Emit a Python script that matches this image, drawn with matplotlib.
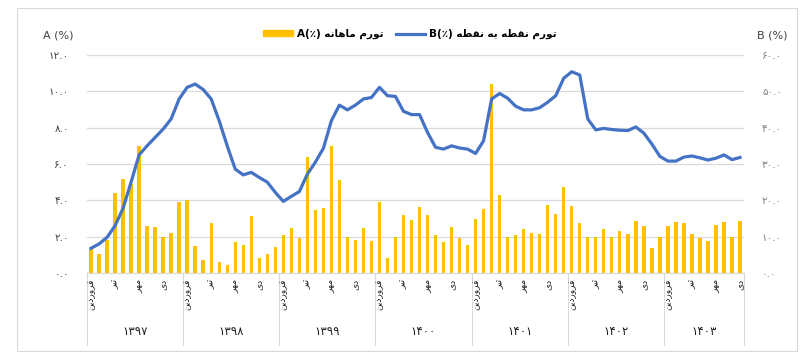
import matplotlib
matplotlib.use('Agg')
import matplotlib.pyplot as plt
from matplotlib.patches import Rectangle, Patch
from matplotlib.lines import Line2D
import matplotlib.transforms as mtransforms

plt.rcParams['font.family'] = ['DejaVu Sans']

# داده‌ها
years = ['۱۳۹۷', '۱۳۹۸', '۱۳۹۹', '۱۴۰۰', '۱۴۰۱', '۱۴۰۲', '۱۴۰۳']
months_per_year = [12, 12, 12, 12, 12, 12, 10]
month_names = {1: 'فروردین', 4: 'تیر', 7: 'مهر', 10: 'دی'}

tavarom_mahane = [
    1.3, 1.05, 1.8, 4.4, 5.2, 4.9, 7.0, 2.6, 2.55, 2.0, 2.2, 3.9,
    4.0, 1.5, 0.73, 2.73, 0.62, 0.46, 1.72, 1.55, 3.16, 0.8, 1.06, 1.41,
    2.1, 2.5, 1.95, 6.4, 3.45, 3.56, 7.0, 5.12, 1.96, 1.82, 2.48, 1.78,
    3.93, 0.84, 1.96, 3.19, 2.92, 3.63, 3.19, 2.09, 1.71, 2.53, 1.94, 1.54,
    2.95, 3.54, 10.4, 4.31, 1.96, 2.09, 2.44, 2.22, 2.13, 3.74, 3.27, 4.72,
    3.69, 2.75, 2.0, 1.96, 2.42, 2.0, 2.33, 2.13, 2.88, 2.57, 1.36, 1.96,
    2.6, 2.81, 2.77, 2.17, 1.94, 1.74, 2.66, 2.81, 1.98, 2.88,
]
tavarom_noghte = [
    6.8, 8.0, 9.8, 13.0, 17.8, 25.0, 32.5, 35.0, 37.3, 39.6, 42.4, 47.9,
    51.1, 52.0, 50.5, 47.9, 41.9, 35.0, 28.6, 27.0, 27.7, 26.3, 25.0, 22.2,
    19.7, 21.1, 22.4, 27.2, 30.5, 34.3, 41.9, 46.2, 44.9, 46.2, 47.9, 48.3,
    51.1, 48.8, 48.6, 44.5, 43.6, 43.6, 38.7, 34.6, 34.1, 35.0, 34.4, 34.1,
    32.9, 36.4, 47.9, 49.4, 48.1, 45.9, 44.9, 44.9, 45.5, 47.0, 48.8, 53.6,
    55.4, 54.5, 42.4, 39.4, 39.8, 39.5, 39.3, 39.2, 40.2, 38.5, 35.5, 32.1,
    30.8, 30.8, 31.9, 32.2, 31.7, 31.1, 31.6, 32.5, 31.2, 31.8,
]

# شکل‌دهی ساده حروف فارسی (matplotlib حروف را به هم نمی‌چسباند)
FORMS = {
    'ت': ('\uFE95', '\uFE96', '\uFE97', '\uFE98'),
    'و': ('\uFEED', '\uFEEE', None, None),
    'ر': ('\uFEAD', '\uFEAE', None, None),
    'م': ('\uFEE1', '\uFEE2', '\uFEE3', '\uFEE4'),
    'ا': ('\uFE8D', '\uFE8E', None, None),
    'ه': ('\uFEE9', '\uFEEA', '\uFEEB', '\uFEEC'),
    'ن': ('\uFEE5', '\uFEE6', '\uFEE7', '\uFEE8'),
    'ق': ('\uFED5', '\uFED6', '\uFED7', '\uFED8'),
    'ط': ('\uFEC1', '\uFEC2', '\uFEC3', '\uFEC4'),
    'ب': ('\uFE8F', '\uFE90', '\uFE91', '\uFE92'),
    'ف': ('\uFED1', '\uFED2', '\uFED3', '\uFED4'),
    'د': ('\uFEA9', '\uFEAA', None, None),
    'ی': ('\uFBFC', '\uFBFD', '\uFBFE', '\uFBFF'),
}


def fa(text):
    out = []
    for i, ch in enumerate(text):
        if ch not in FORMS:
            out.append(ch)
            continue
        prev = text[i - 1] if i > 0 else ''
        nxt = text[i + 1] if i + 1 < len(text) else ''
        join_prev = prev in FORMS and FORMS[prev][2] is not None
        join_next = nxt in FORMS and FORMS[ch][2] is not None
        if join_prev and join_next:
            out.append(FORMS[ch][3])
        elif join_prev:
            out.append(FORMS[ch][1])
        elif join_next:
            out.append(FORMS[ch][2])
        else:
            out.append(FORMS[ch][0])
    return ''.join(reversed(out))


def fa_num(v):
    return f'{v:.1f}'.translate(str.maketrans('0123456789', '۰۱۲۳۴۵۶۷۸۹'))


n = len(tavarom_mahane)
x = list(range(n))

fig = plt.figure(figsize=(8, 3.59), dpi=100)
W, H = 800, 359
ax = fig.add_axes([87 / W, 86 / H, 657 / W, 218 / H])
ax2 = ax.twinx()

# قاب بیرونی
fig.patches.append(Rectangle((17 / W, 8 / H), 780 / W, 343 / H, transform=fig.transFigure,
                             fill=False, ec='#d9d9d9', lw=0.8))

ax.bar(x, tavarom_mahane, width=0.42, color='#FFC000', zorder=2)
ax2.plot(x, tavarom_noghte, color='#4472C4', lw=2.3, solid_joinstyle='round', zorder=3)

ax.set_xlim(-0.5, n - 0.5)
ax.set_ylim(0, 12)
ax2.set_ylim(0, 60)
ax.set_yticks(range(0, 13, 2))
ax2.set_yticks(range(0, 61, 10))
ax.set_yticklabels([fa_num(v) for v in range(0, 13, 2)], fontsize=7.5, color='#404040')
ax2.set_yticklabels([fa_num(v) for v in range(0, 61, 10)], fontsize=7.5, color='#808080')
ax.tick_params(axis='y', length=0, pad=13)
ax2.tick_params(axis='y', length=0, pad=13)
ax.set_xticks([])
ax.yaxis.grid(True, color='#d9d9d9', lw=0.9, zorder=0)
ax.set_axisbelow(True)
for a in (ax, ax2):
    for s in ('top', 'left', 'right'):
        a.spines[s].set_visible(False)
    a.spines['bottom'].set_color('#d9d9d9')

# محور دسته‌بندی دو سطحی
trans = mtransforms.blended_transform_factory(ax.transData, ax.transAxes)
start = 0
for yr, cnt in zip(years, months_per_year):
    ax.plot([start - 0.5, start - 0.5], [0, -0.33], transform=trans, color='#d9d9d9',
            lw=0.8, clip_on=False)
    for m in range(1, cnt + 1):
        if m in month_names:
            ax.text(start + m - 1, -0.025, fa(month_names[m]), transform=trans, rotation=90,
                    ha='center', va='top', fontsize=6.5, color='#202020')
    ax.text(start + (cnt - 1) / 2, -0.27, yr, transform=trans, ha='center', va='center',
            fontsize=8.5, color='#202020')
    start += cnt
ax.plot([start - 0.5, start - 0.5], [0, -0.33], transform=trans, color='#d9d9d9',
        lw=0.8, clip_on=False)

fig.text(58 / W, 1 - 35 / H, 'A (%)', ha='center', va='center', fontsize=8, color='#404040')
fig.text(772 / W, 1 - 35 / H, 'B (%)', ha='center', va='center', fontsize=8, color='#404040')

handles = [Patch(color='#FFC000'), Line2D([0], [0], color='#4472C4', lw=2.3)]
labels = ['A(٪) ' + fa('تورم ماهانه'), 'B(٪) ' + fa('تورم نقطه به نقطه')]
fig.legend(handles, labels, loc='center', bbox_to_anchor=(410 / W, 1 - 34 / H), ncol=2,
           frameon=False, handlelength=2.8, handleheight=0.5,
           columnspacing=1.2, handletextpad=0.4, prop={'weight': 'bold', 'size': 7.5})

fig.savefig('out.png', dpi=100)
